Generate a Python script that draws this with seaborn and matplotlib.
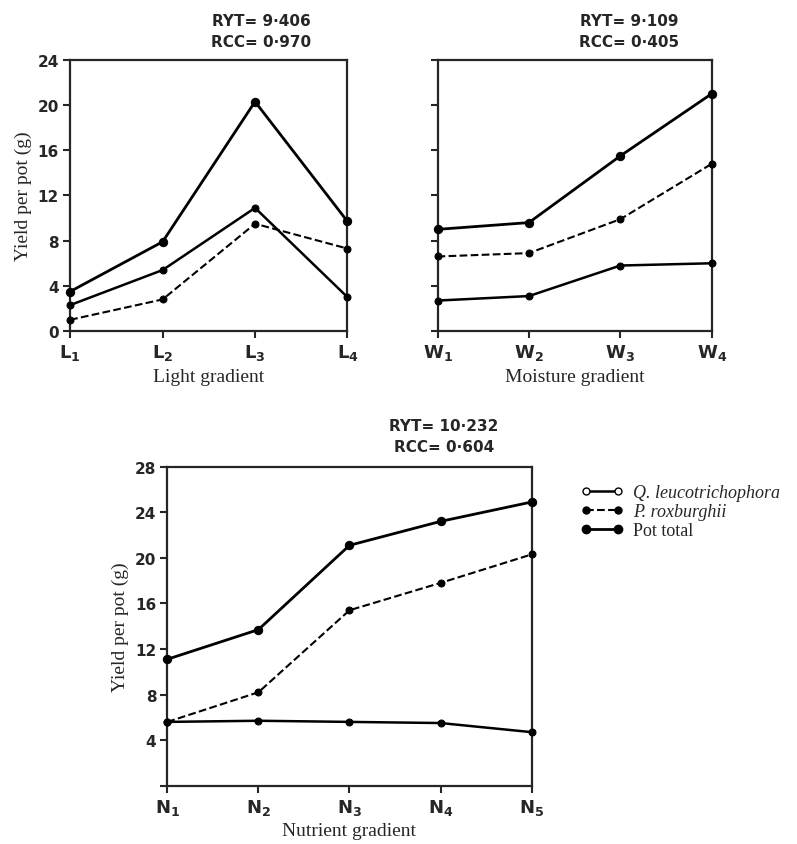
import numpy as np
import pandas as pd
import seaborn as sns
import matplotlib.pyplot as plt
from matplotlib.lines import Line2D

sns.set_style("ticks")
plt.rcParams['font.family'] = ['DejaVu Sans']
plt.rcParams['mathtext.fontset'] = 'dejavusans'

# Data
light_labels = [r'$\mathbf{L_1}$', r'$\mathbf{L_2}$', r'$\mathbf{L_3}$', r'$\mathbf{L_4}$']
light_q = [2.3, 5.4, 10.9, 3.0]
light_p = [1.0, 2.8, 9.5, 7.3]
light_total = [3.5, 7.9, 20.3, 9.7]

moist_labels = [r'$\mathbf{W_1}$', r'$\mathbf{W_2}$', r'$\mathbf{W_3}$', r'$\mathbf{W_4}$']
moist_q = [2.7, 3.1, 5.8, 6.0]
moist_p = [6.6, 6.9, 9.9, 14.8]
moist_total = [9.0, 9.6, 15.5, 21.0]

nutr_labels = [r'$\mathbf{N_1}$', r'$\mathbf{N_2}$', r'$\mathbf{N_3}$', r'$\mathbf{N_4}$', r'$\mathbf{N_5}$']
nutr_q = [5.6, 5.7, 5.6, 5.5, 4.7]
nutr_p = [5.6, 8.2, 15.4, 17.8, 20.3]
nutr_total = [11.1, 13.7, 21.1, 23.2, 24.9]

series_names = ['Q. leucotrichophora', 'P. roxburghii', 'Pot total']

SERIF = 'Liberation Serif'

fig = plt.figure(figsize=(7.97, 8.45), dpi=100)
ax1 = fig.add_axes([0.088, 0.607, 0.348, 0.321])
ax2 = fig.add_axes([0.549, 0.607, 0.344, 0.321])
ax3 = fig.add_axes([0.210, 0.069, 0.457, 0.3775])

line_kw = {
    'Q. leucotrichophora': dict(linestyle='-', linewidth=1.8, marker='o', markersize=5,
                                markerfacecolor='black', markeredgecolor='black'),
    'P. roxburghii': dict(linestyle='--', linewidth=1.5, marker='o', markersize=5,
                          markerfacecolor='black', markeredgecolor='black'),
    'Pot total': dict(linestyle='-', linewidth=2.0, marker='o', markersize=6,
                      markerfacecolor='black', markeredgecolor='black'),
}


def panel(ax, labels, q, p, total, ymax, yticklabels, xlabel, ylabel, note, note_x):
    xs = np.arange(len(labels))
    for name, vals in zip(series_names, [q, p, total]):
        sns.lineplot(x=xs, y=vals, ax=ax, color='black', clip_on=False, zorder=3,
                     **line_kw[name])
    ax.set_xlim(0, len(labels) - 1)
    ax.set_ylim(0, ymax)
    ax.set_yticks(np.arange(0, ymax + 1, 4))
    if yticklabels:
        ylbls = [str(v) if v > 0 or ymax == 24 else '' for v in range(0, ymax + 1, 4)]
        ax.set_yticklabels(ylbls, fontsize=11, fontweight='bold')
    else:
        ax.set_yticklabels([])
    ax.set_xticks(xs)
    ax.set_xticklabels(labels, fontsize=13)
    for s in ax.spines.values():
        s.set_linewidth(1.6)
        s.set_visible(True)
    ax.tick_params(direction='out', length=5, width=1.5, pad=3)
    ax.set_xlabel(xlabel, family=SERIF, fontsize=14, labelpad=4)
    if ylabel:
        ax.set_ylabel(ylabel, family=SERIF, fontsize=14, labelpad=4)
    ax.text(note_x, 1.04, note, transform=ax.transAxes, ha='center', va='bottom',
            fontsize=11, fontweight='bold', linespacing=1.5)


panel(ax1, light_labels, light_q, light_p, light_total, 24, True,
      'Light gradient', 'Yield per pot (g)', 'RYT= 9·406\nRCC= 0·970', 0.69)
panel(ax2, moist_labels, moist_q, moist_p, moist_total, 24, False,
      'Moisture gradient', None, 'RYT= 9·109\nRCC= 0·405', 0.70)
panel(ax3, nutr_labels, nutr_q, nutr_p, nutr_total, 28, True,
      'Nutrient gradient', 'Yield per pot (g)', 'RYT= 10·232\nRCC= 0·604', 0.76)

handles = [Line2D([], [], color='black', **line_kw[n]) for n in series_names]
handles[0].set_markerfacecolor('white')
leg = fig.legend(handles, series_names, loc='upper left', bbox_to_anchor=(0.708, 0.445),
                 frameon=False, numpoints=2, handlelength=2.4, handletextpad=0.5,
                 labelspacing=0.1, prop={'family': SERIF, 'size': 13})
for t in leg.get_texts()[:2]:
    t.set_style('italic')

fig.savefig('out.png', dpi=100)
